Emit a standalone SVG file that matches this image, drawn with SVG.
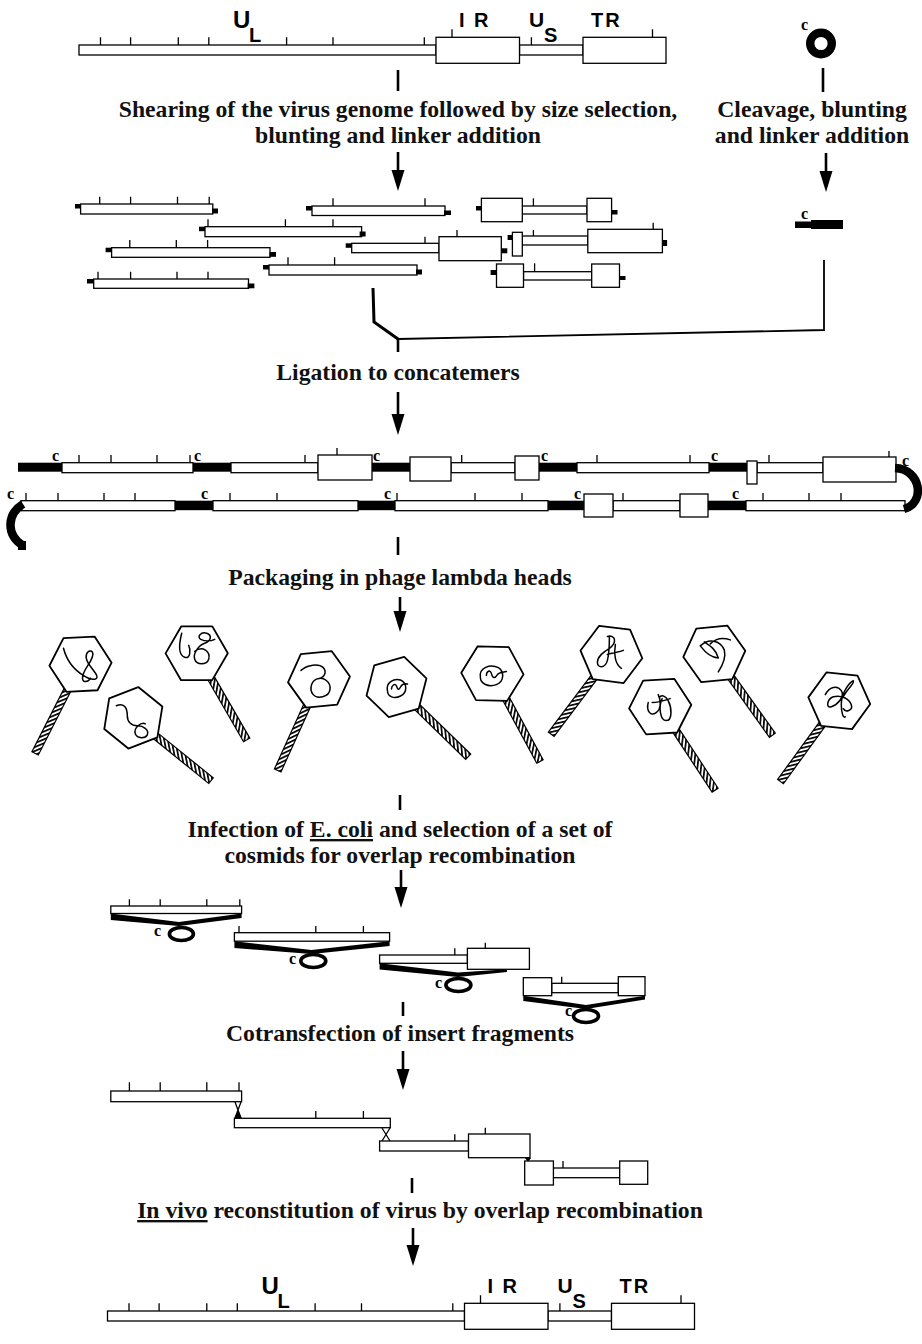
<svg xmlns="http://www.w3.org/2000/svg" xmlns:xlink="http://www.w3.org/1999/xlink" width="922" height="1344" viewBox="0 0 922 1344">
  <style>
    .bar { fill: #fff; stroke: #000; stroke-width: 1.3; }
    .blk { fill: #000; }
    .tick { fill: none; stroke: #000; stroke-width: 1.3; }
    .stem { fill: none; stroke: #000; stroke-width: 2.6; }
    .lbl { font-family: "Liberation Sans", Arial, sans-serif; font-weight: bold; fill: #000; }
    .cap { font-family: "Liberation Serif", "Times New Roman", serif; font-size: 23.7px; font-weight: bold; text-anchor: middle; fill: #111; }
    .c { font-family: "Liberation Serif", "Times New Roman", serif; font-size: 16px; font-weight: bold; fill: #000; }
    .hex { fill: #fff; stroke: #000; stroke-width: 1.8; stroke-linejoin: round; }
    .dna { fill: none; stroke: #000; stroke-width: 1.5; stroke-linecap: round; }
    .ring { fill: none; stroke: #000; stroke-width: 3.6; }
  </style>
  <defs>
    <pattern id="hatch" width="3.6" height="3.6" patternUnits="userSpaceOnUse" patternTransform="rotate(40)">
      <rect width="3.6" height="3.6" fill="#fff"/>
      <rect width="1.7" height="3.6" fill="#000"/>
    </pattern>
    <!-- downward arrowhead, tip at origin -->
    <path id="ahead" d="M-6.5,-21 L6.5,-21 L0,0 Z" fill="#000"/>
    <!-- phage: hexagonal head with a striped tail, tail pointing along +y -->
    <g id="head">
      <rect x="-3.6" y="29" width="7.2" height="71" fill="url(#hatch)" stroke="#000" stroke-width="1.2"/>
      <polygon class="hex" points="0,31 27,15.5 27,-15.5 0,-31 -27,-15.5 -27,15.5"/>
    </g>
  </defs>

  <rect width="922" height="1344" fill="#fff"/>

  <!-- parental genome -->
  <g id="genome-top">
    <rect class="bar" x="79" y="45" width="357" height="10"/>
    <rect class="bar" x="519.5" y="45" width="63.5" height="10"/>
    <rect class="bar" x="436" y="37.3" width="83.5" height="26"/>
    <rect class="bar" x="583" y="37.3" width="83" height="26"/>
    <path class="tick" d="M100.5 45V37.3M130.6 45V37.3M178.3 45V37.3M208.8 45V37.3M286.6 45V37.3M333 45V37.3M424.3 45V37.3M452 37.3V29.3M531.4 45V37.3M652.5 37.3V29.3"/>
    <text class="lbl" x="233" y="28" font-size="24">U</text>
    <text class="lbl" x="249" y="42" font-size="20">L</text>
    <text class="lbl" x="459" y="27" font-size="20" letter-spacing="2">I R</text>
    <text class="lbl" x="529" y="27" font-size="21">U</text>
    <text class="lbl" x="544" y="42" font-size="20">S</text>
    <text class="lbl" x="591" y="27" font-size="20" letter-spacing="2">TR</text>
  </g>

  <!-- cosmid vector -->
  <g id="vector">
    <circle cx="821" cy="43.5" r="10.8" fill="none" stroke="#000" stroke-width="8.4"/>
    <text class="c" x="801" y="30" font-size="14">c</text>
  </g>

  <g id="step-shear">
    <text class="cap" x="398" y="116.7">Shearing of the virus genome followed by size selection,</text>
    <text class="cap" x="398" y="143.3">blunting and linker addition</text>
  </g>
  <g id="step-cleave">
    <text class="cap" x="812" y="116.7">Cleavage, blunting</text>
    <text class="cap" x="812" y="143.3">and linker addition</text>
  </g>

  <!-- sheared fragments with linkers -->
  <g id="fragments">
    <g id="frag-a">
      <rect class="blk" x="75" y="204" width="6" height="4.5"/>
      <rect class="bar" x="80.6" y="204" width="132.2" height="10"/>
      <rect class="blk" x="212" y="208.5" width="6" height="5"/>
      <path class="tick" d="M99.7 204V196.7M130.6 204V196.7M177.5 204V196.7M209.2 204V196.7"/>
    </g>
    <g id="frag-b">
      <rect class="blk" x="306" y="206" width="6" height="4.5"/>
      <rect class="bar" x="312" y="206" width="133" height="9.5"/>
      <rect class="blk" x="444" y="210.5" width="7" height="4.5"/>
      <path class="tick" d="M333 206V198.3M425 206V198.3"/>
    </g>
    <g id="frag-c">
      <rect class="blk" x="199" y="226.7" width="6" height="4.5"/>
      <rect class="bar" x="205" y="226.7" width="156.6" height="10"/>
      <rect class="blk" x="359.6" y="231.5" width="6" height="5"/>
      <path class="tick" d="M208 226.7V219.3M285.4 226.7V219.3M333 226.7V219.3"/>
    </g>
    <g id="frag-d">
      <rect class="blk" x="105.6" y="247.7" width="6" height="4.5"/>
      <rect class="bar" x="111.6" y="247.7" width="158.4" height="9.6"/>
      <rect class="blk" x="269.5" y="252" width="6.5" height="4.8"/>
      <path class="tick" d="M129.8 247.7V240M176.3 247.7V240M207.6 247.7V240"/>
    </g>
    <g id="frag-e">
      <rect class="blk" x="263" y="265" width="6" height="4.5"/>
      <rect class="bar" x="269" y="265" width="148" height="10"/>
      <rect class="blk" x="416" y="269.5" width="6" height="5"/>
      <path class="tick" d="M288 265V257.3M334.6 265V257.3"/>
    </g>
    <g id="frag-f">
      <rect class="blk" x="87" y="279" width="6.7" height="4.5"/>
      <rect class="bar" x="93.7" y="279" width="154.8" height="9.3"/>
      <rect class="blk" x="247.7" y="283.5" width="6.7" height="4.8"/>
      <path class="tick" d="M98 279V271.7M130.6 279V271.7M177 279V271.7M208 279V271.7"/>
    </g>
    <g id="frag-g">
      <rect class="blk" x="476" y="206" width="5.4" height="4.5"/>
      <rect class="bar" x="522.3" y="206" width="64.7" height="8"/>
      <rect class="bar" x="481.4" y="198.3" width="40.9" height="23.4"/>
      <rect class="bar" x="587" y="198.3" width="24.6" height="23.4"/>
      <rect class="blk" x="611.6" y="210" width="5.9" height="4.5"/>
      <path class="tick" d="M533.4 206V198.3"/>
    </g>
    <g id="frag-h">
      <rect class="blk" x="345.7" y="243.3" width="6" height="4.5"/>
      <rect class="bar" x="351.7" y="243.3" width="87.3" height="9.4"/>
      <rect class="bar" x="439" y="236.7" width="62.3" height="24"/>
      <rect class="blk" x="501.3" y="248.3" width="6" height="5"/>
      <path class="tick" d="M425 243.3V236.7M457 236.7V230"/>
    </g>
    <g id="frag-i">
      <rect class="blk" x="507.6" y="235" width="4.8" height="5"/>
      <rect class="bar" x="522.3" y="236" width="65.5" height="9"/>
      <rect class="bar" x="512.4" y="232.3" width="9.9" height="23.7"/>
      <rect class="bar" x="587.8" y="229.3" width="74.6" height="23.4"/>
      <rect class="blk" x="662.4" y="240" width="4.7" height="6"/>
      <path class="tick" d="M533.4 236V230M653.2 229.3V222.7"/>
    </g>
    <g id="frag-j">
      <rect class="blk" x="490.6" y="270" width="5.9" height="5"/>
      <rect class="bar" x="523.5" y="271.7" width="68.2" height="8.3"/>
      <rect class="bar" x="496.5" y="264" width="27" height="23.3"/>
      <rect class="bar" x="591.7" y="264" width="27.8" height="23.3"/>
      <rect class="blk" x="619.5" y="276" width="6" height="4"/>
      <path class="tick" d="M534.6 271.7V263.3"/>
    </g>
  </g>

  <!-- linearised vector -->
  <g id="vector-linear">
    <rect class="blk" x="795" y="221.5" width="48" height="6.5"/>
    <rect class="blk" x="811" y="220" width="32" height="9"/>
    <text class="c" x="801" y="219" font-size="15">c</text>
  </g>

  <g id="step-ligation">
    <text class="cap" x="398" y="380">Ligation to concatemers</text>
  </g>

  <!-- concatemers -->
  <g id="concatemer">
    <g id="strand-1">
      <rect class="blk" x="18" y="462.7" width="44" height="9"/>
      <rect class="bar" x="62" y="462.7" width="131" height="10"/>
      <rect class="blk" x="193" y="462.7" width="38" height="9"/>
      <rect class="bar" x="231" y="462.7" width="87" height="10"/>
      <rect class="bar" x="318" y="455" width="54" height="25"/>
      <rect class="blk" x="372" y="462.7" width="38" height="9"/>
      <rect class="bar" x="451" y="462.7" width="64" height="10"/>
      <rect class="bar" x="410" y="457" width="41" height="24"/>
      <rect class="bar" x="515" y="456" width="24" height="24"/>
      <rect class="blk" x="539" y="462.7" width="38" height="9"/>
      <rect class="bar" x="577" y="462.7" width="132" height="10"/>
      <rect class="blk" x="709" y="462.7" width="38" height="9"/>
      <rect class="bar" x="757" y="462.7" width="66" height="10"/>
      <rect class="bar" x="747" y="461" width="10" height="23"/>
      <rect class="bar" x="823" y="457" width="73" height="25"/>
      <path class="tick" d="M79 462.7V455M111 462.7V455M157 462.7V455M190 462.7V455M305 462.7V455M337 455V448M461.7 462.7V455M597 462.7V455M690 462.7V455M769 462.7V455M889 457V451"/>
      <text class="c" x="52" y="461">c</text>
      <text class="c" x="194" y="461">c</text>
      <text class="c" x="373" y="461">c</text>
      <text class="c" x="541" y="461">c</text>
      <text class="c" x="711" y="461">c</text>
      <text class="c" x="902" y="466">c</text>
    </g>
    <g id="strand-2">
      <rect class="bar" x="21" y="500.7" width="154" height="10"/>
      <rect class="blk" x="175" y="500.7" width="38" height="9.5"/>
      <rect class="bar" x="213" y="500.7" width="145" height="10"/>
      <rect class="blk" x="358" y="500.7" width="37" height="9.5"/>
      <rect class="bar" x="395" y="500.7" width="153" height="10"/>
      <rect class="blk" x="548" y="500.7" width="36" height="9.5"/>
      <rect class="bar" x="613" y="500.7" width="67" height="10"/>
      <rect class="bar" x="584" y="494" width="29" height="23"/>
      <rect class="bar" x="680" y="494" width="28" height="23"/>
      <rect class="blk" x="708" y="500.7" width="38" height="9.5"/>
      <rect class="bar" x="746" y="500.7" width="159" height="10"/>
      <path class="tick" d="M26 500.7V493M58 500.7V493M104 500.7V493M135 500.7V493M230 500.7V493M277 500.7V493M397 500.7V493M475 500.7V493M522 500.7V493M623 500.7V493M763 500.7V493M809 500.7V493M841 500.7V493"/>
      <text class="c" x="7" y="499">c</text>
      <text class="c" x="201" y="499">c</text>
      <text class="c" x="384" y="499">c</text>
      <text class="c" x="574" y="499">c</text>
      <text class="c" x="732" y="499">c</text>
    </g>
    <path d="M895 468 C921 469 926 503 904 509" fill="none" stroke="#000" stroke-width="8.5"/>
    <path d="M23 504 C7 514 6 534 22 545" fill="none" stroke="#000" stroke-width="8.5"/>
    <rect class="blk" x="18" y="541" width="8" height="9"/>
  </g>

  <g id="step-packaging">
    <text class="cap" x="400" y="585">Packaging in phage lambda heads</text>
  </g>

  <!-- packaged phage particles -->
  <g id="phages">
    <g id="phage-1" transform="translate(80.5 664.2)">
      <use href="#head" transform="rotate(27)"/>
      <path class="dna" d="M-17,-16 C-14,-4 -6,6 4,12 C12,17 20,16 15,9 C10,2 4,-4 6,-10 C8,-15 14,-14 12,-8 C10,0 2,6 2,14 C2,19 8,18 10,14"/>
    </g>
    <g id="phage-2" transform="translate(133.3 717.8)">
      <use href="#head" transform="rotate(-51)"/>
      <path class="dna" d="M-17,-12 C-8,-16 -6,-8 -6,-2 C-6,4 -2,8 4,8 C10,8 16,12 14,17 C12,21 4,21 2,16 C0,10 8,4 12,6"/>
    </g>
    <g id="phage-3" transform="translate(196.7 653.3)">
      <use href="#head" transform="rotate(-30)"/>
      <path class="dna" d="M-15,-20 C-18,-8 -18,2 -12,4 C-6,6 -6,-4 -8,-8 M-2,-2 C6,-8 14,-2 12,6 C10,12 0,12 -2,6 C-4,0 2,-8 8,-10 C14,-12 16,-18 10,-20 C4,-22 0,-16 4,-14 C8,-12 14,-12 18,-14"/>
    </g>
    <g id="phage-4" transform="translate(319 679.4)">
      <use href="#head" transform="rotate(24.4)"/>
      <path class="dna" d="M-18,-9 C-12,-15 0,-16 4,-12 C8,-8 6,-2 0,-1 C-8,0 -10,10 -6,15 C-2,20 10,18 11,10 C12,2 4,-2 0,-1"/>
    </g>
    <g id="phage-5" transform="translate(396.5 687)">
      <use href="#head" transform="rotate(-45.8)"/>
      <path class="dna" d="M-9,4 C-11,-5 -2,-9 4,-7 C11,-4 11,6 4,9 C-2,12 -9,10 -9,4 M-5,2 C-5,-2 -1,-4 0,-1 C1,2 2,4 4,0 C5,-2 7,-4 11,-3"/>
    </g>
    <g id="phage-6" transform="translate(492.4 673.6)">
      <use href="#head" transform="rotate(-28.4)"/>
      <path class="dna" d="M-12,4 C-14,-6 -2,-10 6,-6 C12,-2 12,8 4,11 C-4,14 -12,10 -12,4 M-6,2 C-6,-3 -2,-4 -1,0 C0,4 2,6 5,1 C7,-2 10,-1 14,-2"/>
    </g>
    <g id="phage-7" transform="translate(611.4 654.4)">
      <use href="#head" transform="rotate(37)"/>
      <path class="dna" d="M-4,-18 C4,-20 6,-12 -2,-6 C-8,-2 -14,2 -14,8 C-14,14 -6,14 -4,6 C-2,-2 -2,-12 -2,-18 M-4,0 C2,-2 8,-2 12,-4 M4,-10 C2,0 4,10 10,14"/>
    </g>
    <g id="phage-8" transform="translate(660.2 706.6)">
      <use href="#head" transform="rotate(-33.3)"/>
      <path class="dna" d="M-12,-4 C-14,4 -10,10 -4,6 C2,2 0,-8 -2,-12 M-8,-4 C-2,-4 4,-6 10,-8 M2,-8 C-2,0 0,14 6,14 C12,14 12,2 8,-6 C6,-10 2,-12 0,-10"/>
    </g>
    <g id="phage-9" transform="translate(714.3 653.9)">
      <use href="#head" transform="rotate(-35.5)"/>
      <path class="dna" d="M-14,-8 C-6,-16 6,-14 10,-4 C12,4 8,12 4,18 M-14,-8 C-8,0 -2,4 4,4 M-10,-12 C-4,-8 2,-4 4,4 M-4,-10 C2,-16 10,-16 16,-14"/>
    </g>
    <g id="phage-10" transform="translate(839.3 700.7)">
      <use href="#head" transform="rotate(36)"/>
      <path class="dna" d="M-14,-6 C-10,-14 -2,-16 2,-10 C6,-4 -2,4 -8,6 C-14,8 -12,-2 -6,-4 C2,-6 10,-2 12,4 C14,10 6,12 4,8 M4,-4 C8,-12 16,-18 14,-20 C10,-18 2,-8 2,4 C2,12 4,18 6,16"/>
    </g>
  </g>

  <g id="step-infection">
    <text class="cap" x="400" y="837">Infection of <tspan text-decoration="underline">E. coli</tspan> and selection of a set of</text>
    <text class="cap" x="400" y="863">cosmids for overlap recombination</text>
  </g>

  <!-- selected cosmids -->
  <g id="cosmids">
    <g id="cosmid-1">
      <rect class="bar" x="110.8" y="906" width="130.8" height="7.5"/>
      <polygon class="blk" points="110.8,913.5 179,922 241.6,913.5 241.6,918 179,926 110.8,920"/>
      <ellipse class="ring" cx="181.4" cy="934" rx="12" ry="6.5"/>
      <path class="tick" d="M129.4 906V899.3M160.2 906V899.3M206.8 906V899.3M239.8 906V899.3"/>
      <text class="c" x="154" y="936" font-size="14">c</text>
    </g>
    <g id="cosmid-2">
      <rect class="bar" x="234.4" y="932.7" width="155.2" height="8.5"/>
      <polygon class="blk" points="234.4,941.2 311.5,950 389.6,941.2 389.6,946 311.5,954 234.4,948"/>
      <ellipse class="ring" cx="313.3" cy="961" rx="12.5" ry="6.5"/>
      <path class="tick" d="M239 932.7V926M315.8 932.7V926M363.4 932.7V926"/>
      <text class="c" x="289" y="964" font-size="14">c</text>
    </g>
    <g id="cosmid-3">
      <rect class="bar" x="379.6" y="955" width="87.8" height="8.3"/>
      <rect class="bar" x="467.4" y="948.3" width="62" height="21"/>
      <polygon class="blk" points="379.6,963.3 458,972.5 507,969.3 507,972 458,977 379.6,969.5"/>
      <ellipse class="ring" cx="458.4" cy="985" rx="12.5" ry="6.5"/>
      <path class="tick" d="M454.8 955V948.3M485.3 948.3V942.7"/>
      <text class="c" x="435" y="988" font-size="14">c</text>
    </g>
    <g id="cosmid-4">
      <rect class="bar" x="551.7" y="983.3" width="66.6" height="9.4"/>
      <rect class="bar" x="523.3" y="977.7" width="28.4" height="18"/>
      <rect class="bar" x="618.3" y="976.7" width="26.7" height="19"/>
      <polygon class="blk" points="523.3,995.7 586,1005 645,995.7 645,999.5 586,1009 523.3,1001"/>
      <ellipse class="ring" cx="586" cy="1016" rx="12.5" ry="6.5"/>
      <path class="tick" d="M561.7 983.3V976.7"/>
      <text class="c" x="565" y="1016" font-size="14">c</text>
    </g>
  </g>

  <g id="step-cotransfection">
    <text class="cap" x="400" y="1041" font-size="22">Cotransfection of insert fragments</text>
  </g>

  <!-- overlapping inserts -->
  <g id="overlap">
    <rect class="bar" x="110.8" y="1091" width="130.8" height="10.7"/>
    <path class="tick" d="M129.4 1091V1082.3M160.2 1091V1082.3M206.8 1091V1082.3M239 1091V1082.3"/>
    <path class="tick" d="M235 1102L241 1118M241 1102L235 1118"/>
    <polygon class="blk" points="238,1110 234.5,1118 241.5,1118"/>
    <rect class="bar" x="234.4" y="1118.3" width="155.9" height="9.4"/>
    <path class="tick" d="M315.8 1118.3V1111M363.4 1118.3V1111"/>
    <path class="tick" d="M382 1128L390 1141M390 1128L382 1141"/>
    <rect class="bar" x="379.6" y="1141" width="88.9" height="10"/>
    <rect class="bar" x="468.5" y="1134" width="61.5" height="23.7"/>
    <path class="tick" d="M454.8 1141V1134.3M485.3 1134V1127.7"/>
    <polygon class="blk" points="525,1158 531,1158 528,1162"/>
    <rect class="bar" x="553.4" y="1168" width="66.3" height="9.7"/>
    <rect class="bar" x="524.7" y="1161" width="28.7" height="24"/>
    <rect class="bar" x="619.7" y="1161" width="28" height="23.3"/>
    <path class="tick" d="M563 1168V1161"/>
  </g>

  <g id="step-reconstitution">
    <text class="cap" x="420" y="1218"><tspan text-decoration="underline">In vivo</tspan> reconstitution of virus by overlap recombination</text>
  </g>

  <!-- reconstituted genome -->
  <use id="genome-bottom" href="#genome-top" transform="translate(28.5 1266)"/>

  <!-- connectors -->
  <g id="connectors">
    <path class="stem" d="M398 70V91"/>
    <path class="stem" d="M398 152V172"/>
    <use href="#ahead" x="398" y="191"/>
    <path class="stem" d="M823 68V92"/>
    <path class="stem" d="M826 153V173"/>
    <use href="#ahead" x="826" y="192"/>
    <path d="M824 260V330L398 339" fill="none" stroke="#000" stroke-width="1.8"/>
    <path d="M373 288L374 322L398 339" fill="none" stroke="#000" stroke-width="3"/>
    <path class="stem" d="M398 339V352"/>
    <path class="stem" d="M398 392V415"/>
    <use href="#ahead" x="398" y="435"/>
    <path class="stem" d="M398 537V555"/>
    <path class="stem" d="M400 597V612"/>
    <use href="#ahead" x="400" y="632"/>
    <path class="stem" d="M400 795V810"/>
    <path class="stem" d="M401 870V889"/>
    <use href="#ahead" x="401" y="908"/>
    <path class="stem" d="M403 1002V1016"/>
    <path class="stem" d="M403 1051V1070"/>
    <use href="#ahead" x="403" y="1090"/>
    <path class="stem" d="M412 1178V1193"/>
    <path class="stem" d="M413 1228V1246"/>
    <use href="#ahead" x="413" y="1266"/>
  </g>
</svg>
